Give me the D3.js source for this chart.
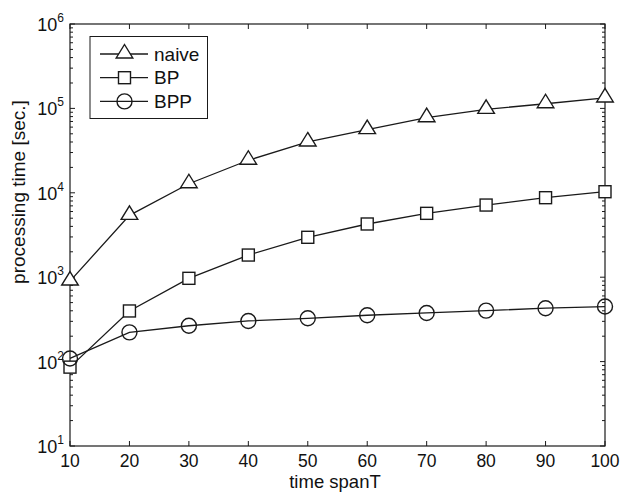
<!DOCTYPE html>
<html>
<head>
<meta charset="utf-8">
<script src="https://cdn.jsdelivr.net/npm/d3@7"></script>
<style>
  body { margin: 0; background: #fff; }
  text { font-family: "Liberation Sans", Arial, sans-serif; fill: #111; }
</style>
</head>
<body>
<svg id="chart" width="621" height="493"></svg>
<script>
// data
const spans = [10, 20, 30, 40, 50, 60, 70, 80, 90, 100];
const naive = [900, 5400, 12800, 24300, 40000, 56000, 77600, 97500, 113500, 133000];
const bp    = [86, 398, 970, 1830, 2970, 4270, 5710, 7160, 8750, 10300];
const bpp   = [109, 222, 266, 303, 326, 354, 377, 402, 429, 449];
const seriesNames = ["naive", "BP", "BPP"];
const seriesMarks = ["triangle", "square", "circle"];
const decades = [1, 2, 3, 4, 5, 6];

const svg = d3.select("#chart");
const pLeft = 70, pRight = 605, pTop = 24, pBottom = 446;
const ink = "#1a1a1a";

const x = d3.scaleLinear().domain([10, 100]).range([pLeft, pRight]);
const y = d3.scaleLog().domain([10, 1e6]).range([pBottom, pTop]);

// frame
svg.append("rect")
  .attr("x", pLeft).attr("y", pTop)
  .attr("width", pRight - pLeft).attr("height", pBottom - pTop)
  .attr("fill", "none").attr("stroke", ink).attr("stroke-width", 1.2);

// x ticks (bottom and top, inward)
const tk = svg.append("g").attr("stroke", ink).attr("stroke-width", 1);
spans.forEach(v => {
  tk.append("line").attr("x1", x(v)).attr("x2", x(v)).attr("y1", pBottom).attr("y2", pBottom - 5);
  tk.append("line").attr("x1", x(v)).attr("x2", x(v)).attr("y1", pTop).attr("y2", pTop + 5);
});

// y ticks: majors and minors on both sides
for (let d = 1; d <= 6; d++) {
  for (let m = 1; m <= 9; m++) {
    const v = m * Math.pow(10, d);
    if (v > 1e6) break;
    const len = m === 1 ? 5 : 3;
    tk.append("line").attr("x1", pLeft).attr("x2", pLeft + len).attr("y1", y(v)).attr("y2", y(v));
    tk.append("line").attr("x1", pRight).attr("x2", pRight - len).attr("y1", y(v)).attr("y2", y(v));
  }
}

// x tick labels
svg.append("g").selectAll("text").data(spans).join("text")
  .attr("x", d => x(d)).attr("y", pBottom + 21)
  .attr("text-anchor", "middle").attr("font-size", 17.5)
  .text(d => d);

// y tick labels with superscripts
const yl = svg.append("g").selectAll("text").data(decades).join("text")
  .attr("x", pLeft - 6).attr("y", d => y(Math.pow(10, d)) + 7)
  .attr("text-anchor", "end").attr("font-size", 18);
yl.append("tspan").text("10");
yl.append("tspan").attr("font-size", 12).attr("dy", -9).text(d => d);

// axis titles
svg.append("text").attr("x", 335).attr("y", 488)
  .attr("text-anchor", "middle").attr("font-size", 18.5).text("time spanT");
svg.append("text")
  .attr("transform", "translate(25,192) rotate(-90)")
  .attr("text-anchor", "middle").attr("font-size", 19).text("processing time [sec.]");

function drawMarker(g, kind, cx, cy) {
  if (kind === "triangle") {
    g.append("path")
      .attr("d", `M${cx},${cy - 9.5}L${cx + 8.3},${cy + 4}L${cx - 8.3},${cy + 4}Z`)
      .attr("fill", "#fff").attr("stroke", ink).attr("stroke-width", 1.4);
  } else if (kind === "square") {
    g.append("rect").attr("x", cx - 6).attr("y", cy - 6).attr("width", 12).attr("height", 12)
      .attr("fill", "#fff").attr("stroke", ink).attr("stroke-width", 1.4);
  } else {
    g.append("circle").attr("cx", cx).attr("cy", cy).attr("r", 7.5)
      .attr("fill", "none").attr("stroke", ink).attr("stroke-width", 1.4);
  }
}

const line = d3.line().x((d, i) => x(spans[i])).y(d => y(d));
[naive, bp, bpp].forEach((vals, k) => {
  const g = svg.append("g");
  g.append("path").attr("d", line(vals)).attr("fill", "none")
    .attr("stroke", ink).attr("stroke-width", 1.3);
  vals.forEach((v, i) => drawMarker(g, seriesMarks[k], x(spans[i]), y(v)));
});

// legend
const lg = svg.append("g");
lg.append("rect").attr("x", 90).attr("y", 36.5).attr("width", 117.5).attr("height", 82)
  .attr("fill", "#fff").attr("stroke", ink).attr("stroke-width", 1);
seriesNames.forEach((name, i) => {
  const ly = 54 + i * 23.7;
  lg.append("line").attr("x1", 100).attr("x2", 148).attr("y1", ly).attr("y2", ly)
    .attr("stroke", ink).attr("stroke-width", 1.3);
  drawMarker(lg, seriesMarks[i], 124.5, ly);
  lg.append("text").attr("x", 154).attr("y", ly + 6.5).attr("font-size", 19).text(name);
});
</script>
</body>
</html>
